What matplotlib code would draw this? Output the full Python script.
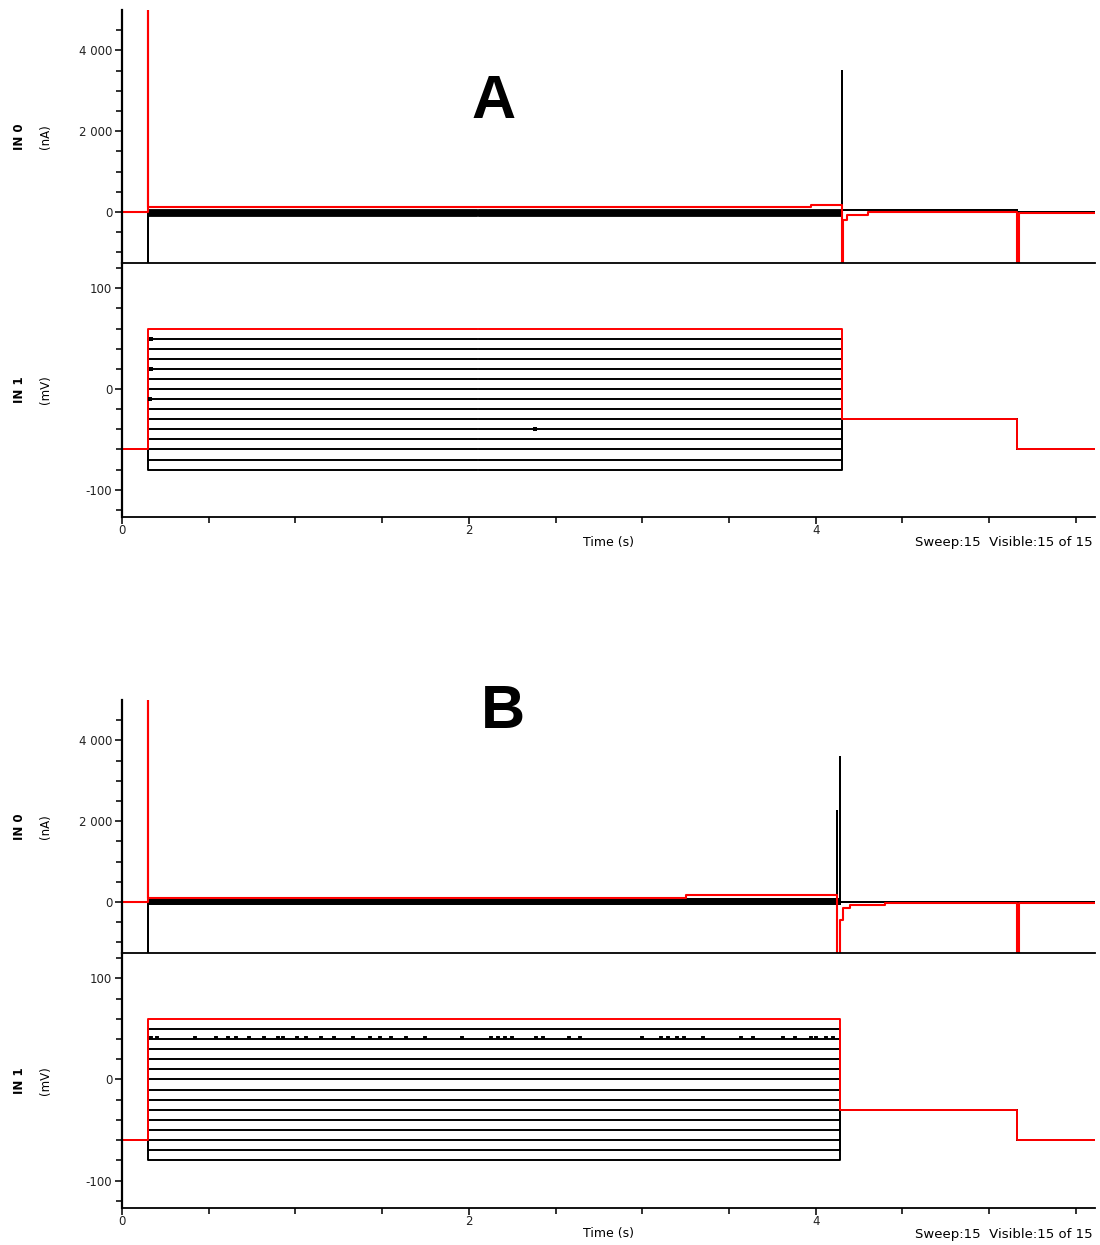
import numpy as np
import matplotlib.pyplot as plt

# voltage protocol (mV) - 15 sweeps, the last one (red) is the current sweep
sweep_mv = [-80, -70, -60, -50, -40, -30, -20, -10, 0, 10, 20, 30, 40, 50, 60]
hold_mv = -60
tail_mv = -30

# timing (s)
t_on = 0.15
t_off_a = 4.15
t_off_b = 4.14
t_tail = 5.16
t_end = 5.61
gap_a = (2.048, 2.056)  # small break in the recording of panel A

# steady currents during the step (nA), black sweeps
step_na_a = [-90, -80, -70, -60, -50, -40, -30, -20, -10, 0, 10, 20, 30, 40]
step_na_b = [-50, -40, -30, -20, -10, 0, 10, 20, 30, 40, 50, 60, 70, 75]
tail_na_a = 50
post_na_a = -10
tail_na_b = 0
post_na_b = 0

# capacitive spikes of the black sweeps (nA)
on_spike_a = -1400
off_spike_a = 3500
on_spike_b = -1400
off_spike_b = [(4.14, 3580), (4.12, 2240)]

# red sweep current
red_t_a = [0, 0.15, 0.15, 0.152, 0.152, 3.97, 3.97, 4.15, 4.15, 4.16, 4.16, 4.18, 4.18, 4.30,
           4.30, 5.16, 5.16, 5.17, 5.17, 5.61]
red_i_a = [0, 0, 5400, 5400, 110, 110, 160, 160, -1400, -1400, -200, -200, -80, -80,
           10, 10, -1400, -1400, -35, -35]
red_t_b = [0, 0.15, 0.15, 0.152, 0.152, 3.25, 3.25, 4.12, 4.12, 4.14, 4.14, 4.16, 4.16, 4.20,
           4.20, 4.40, 4.40, 5.16, 5.16, 5.17, 5.17, 5.61]
red_i_b = [0, 0, 5400, 5400, 100, 100, 180, 180, -1400, -1400, -450, -450, -150, -150,
           -75, -75, -25, -25, -1400, -1400, -30, -30]

# noise blips on the voltage records
blips_a_t = [0.17, 0.17, 0.16, 2.38]
blips_a_v = [50, 20, -10, -40]
blips_b_t = [0.17, 0.20, 0.42, 0.54, 0.61, 0.66, 0.73, 0.82, 0.90, 0.93, 1.01, 1.06, 1.15, 1.22,
             1.33, 1.43, 1.49, 1.55, 1.64, 1.75, 1.96, 2.13, 2.17, 2.21, 2.25, 2.39, 2.43, 2.58,
             2.64, 3.00, 3.11, 3.15, 3.20, 3.24, 3.35, 3.57, 3.64, 3.81, 3.88, 3.97, 4.00, 4.06, 4.10]
blips_b_v = 40


def break_at(t, y, gap):
    # insert a NaN so the line shows a short gap
    if gap is None:
        return t, y
    t2, y2 = [], []
    for k in range(len(t) - 1):
        t2.append(t[k]); y2.append(y[k])
        if t[k] < gap[0] and t[k + 1] > gap[1] and y[k] == y[k + 1]:
            t2 += [gap[0], np.nan, gap[1]]
            y2 += [y[k], np.nan, y[k]]
    t2.append(t[-1]); y2.append(y[-1])
    return t2, y2


def voltage_trace(v, t_off, gap=None):
    t = [0, t_on, t_on, t_off, t_off, t_tail, t_tail, t_end]
    y = [hold_mv, hold_mv, v, v, tail_mv, tail_mv, hold_mv, hold_mv]
    return break_at(t, y, gap)


def current_trace(level, t_off, tail, post, on_peak=None, off_spikes=(), gap=None):
    if on_peak is None:
        on_peak = level
    t = [0, t_on, t_on, t_on]
    y = [0, 0, on_peak, level]
    for ts, peak in sorted(off_spikes):
        t += [ts, ts, ts]
        y += [level, peak, level]
    t += [t_off, t_off, t_tail, t_tail, t_end]
    y += [level, tail, tail, post, post]
    return break_at(t, y, gap)


def style_axes(ax_i, ax_v):
    for ax in (ax_i, ax_v):
        ax.set_xlim(0, t_end)
        ax.spines['right'].set_visible(False)
        ax.spines['left'].set_linewidth(1.6)
        ax.spines['bottom'].set_linewidth(1.3)
        ax.tick_params(which='both', direction='out', width=1.3, labelsize=8.5, colors='#222222', pad=2)
        ax.tick_params(which='major', length=5)
        ax.tick_params(which='minor', length=4)
    ax_i.spines['top'].set_visible(False)
    ax_v.spines['top'].set_visible(False)
    ax_v.patch.set_visible(False)
    ax_i.set_ylim(-1265, 5000)
    ax_i.set_yticks([0, 2000, 4000], ['0', '2 000', '4 000'])
    ax_i.set_yticks(np.arange(-1000, 5000, 500), minor=True)
    ax_i.tick_params(axis='x', which='both', bottom=False, labelbottom=False)
    ax_v.set_ylim(-127, 125)
    ax_v.set_yticks([-100, 0, 100], ['-100', '0', '100'])
    ax_v.set_yticks(np.arange(-120, 121, 20), minor=True)
    ax_v.set_xticks([0, 2, 4], ['0', '2', '4'])
    ax_v.set_xticks(np.arange(0, 5.6, 0.5), minor=True)
    ax_v.tick_params(axis='x', pad=0)
    ax_v.set_xlabel('Time (s)', fontsize=9, labelpad=-1)


plt.rcParams['font.family'] = ['DejaVu Sans']
fig = plt.figure(figsize=(11, 12.45), dpi=100)

panels = [
    ('A', 0.78876, 0.58474, t_off_a, step_na_a, tail_na_a, post_na_a, on_spike_a,
     [(t_off_a, off_spike_a)], red_t_a, red_i_a, gap_a, 0.9173, 0.5640),
    ('B', 0.23454, 0.02972, t_off_b, step_na_b, tail_na_b, post_na_b, on_spike_b,
     off_spike_b, red_t_b, red_i_b, None, 0.4281, 0.0084),
]

for (name, bot_i, bot_v, t_off, step_na, tail_na, post_na, on_spk, off_spk,
     red_t, red_i, gap, letter_y, foot_y) in panels:
    h_v = bot_i - bot_v
    ax_v = fig.add_axes([0.1109, bot_v, 0.8845, h_v])
    ax_i = fig.add_axes([0.1109, bot_i, 0.8845, 0.2032])

    # current records
    for k, level in enumerate(step_na):
        peak = on_spk if k == 0 else None
        spikes = off_spk if k == 0 else []
        if name == 'B':
            spikes = [off_spk[k]] if k < len(off_spk) else []
        t, y = current_trace(level, t_off, tail_na, post_na, peak, spikes, gap)
        ax_i.plot(t, y, color='black', lw=1.3)
    ax_i.plot(red_t, red_i, color='red', lw=1.5)

    # voltage records
    for v in sweep_mv[:-1]:
        t, y = voltage_trace(v, t_off, gap)
        ax_v.plot(t, y, color='black', lw=1.4)
    t, y = voltage_trace(sweep_mv[-1], t_off, gap)
    ax_v.plot(t, y, color='red', lw=1.4)
    if name == 'A':
        ax_v.plot(blips_a_t, blips_a_v, 's', color='black', ms=2.5, mew=0)
    else:
        ax_v.vlines(blips_b_t, blips_b_v, blips_b_v + 3, color='black', lw=2.8)

    style_axes(ax_i, ax_v)

    fig.text(0.449 if name == 'A' else 0.457, letter_y, name, fontsize=44, fontweight='bold',
             family='Liberation Sans', ha='center', va='center')
    yi = bot_i + 0.2032 / 2
    yv = bot_v + h_v / 2
    fig.text(0.018, yi, 'IN 0', rotation=90, fontsize=8.5, fontweight='bold', ha='center', va='center')
    fig.text(0.041, yi, '(nA)', rotation=90, fontsize=8.5, ha='center', va='center')
    fig.text(0.018, yv, 'IN 1', rotation=90, fontsize=8.5, fontweight='bold', ha='center', va='center')
    fig.text(0.041, yv, '(mV)', rotation=90, fontsize=8.5, ha='center', va='center')
    fig.text(0.993, foot_y, 'Sweep:15  Visible:15 of 15', fontsize=9.5, ha='right', va='center')

fig.savefig('out.png', dpi=100)
